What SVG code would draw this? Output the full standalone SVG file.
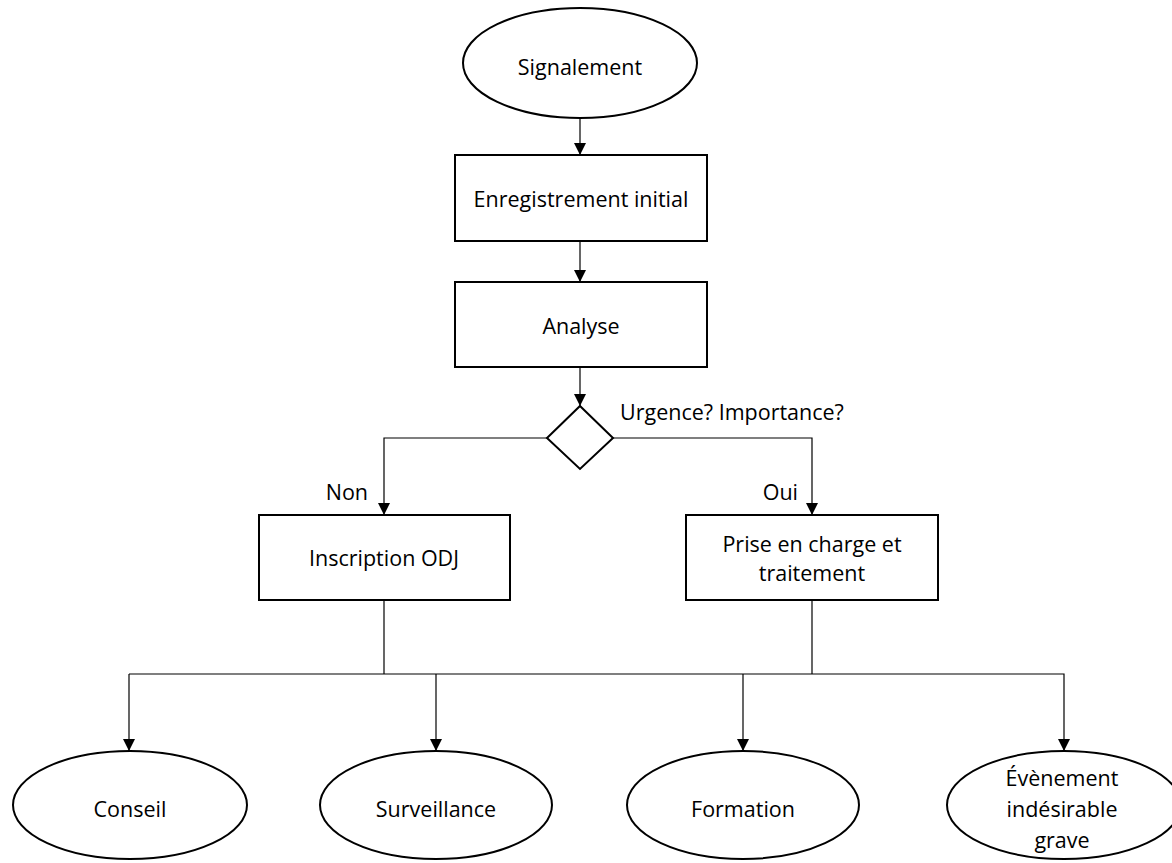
<svg xmlns="http://www.w3.org/2000/svg" width="1172" height="863" viewBox="0 0 1172 863">
<style>
.shape{fill:#fff;stroke:#000;stroke-width:2}
.lbl{font-family:"Open Sans","Liberation Sans",sans-serif;font-size:21.5px;fill:#000;text-anchor:middle;dominant-baseline:central}
.side{font-family:"Open Sans","Liberation Sans",sans-serif;font-size:21.5px;fill:#000;dominant-baseline:central}
.conn{fill:none;stroke:#000;stroke-width:1.2}
</style>
<defs>
<marker id="arr" markerUnits="userSpaceOnUse" markerWidth="12" markerHeight="12" refX="12" refY="6" orient="auto">
<path d="M0,0 L12,6 L0,12 z" fill="#000"/>
</marker>
</defs>
<rect width="1172" height="863" fill="#fff"/>
<g id="connectors">
<path class="conn" d="M580,118 V155" marker-end="url(#arr)"/>
<path class="conn" d="M580,241 V282" marker-end="url(#arr)"/>
<path class="conn" d="M580,367 V406" marker-end="url(#arr)"/>
<path class="conn" d="M547,438 H384 V515" marker-end="url(#arr)"/>
<path class="conn" d="M613,438 H812 V515" marker-end="url(#arr)"/>
<path class="conn" d="M384,600 V674"/>
<path class="conn" d="M812,600 V674"/>
<path class="conn" d="M129,674 H1064 V751" marker-end="url(#arr)"/>
<path class="conn" d="M129,674 V751" marker-end="url(#arr)"/>
<path class="conn" d="M436,674 V751" marker-end="url(#arr)"/>
<path class="conn" d="M743,674 V751" marker-end="url(#arr)"/>
<text class="side" x="620" y="411">Urgence? Importance?</text>
<text class="side" x="368" y="491" text-anchor="end">Non</text>
<text class="side" x="798" y="491" text-anchor="end">Oui</text>
</g>
<g id="signalement"><ellipse class="shape" cx="580" cy="63" rx="117" ry="55"/><text class="lbl" x="580" y="66">Signalement</text></g>
<g id="enregistrement"><rect class="shape" x="455" y="155" width="252" height="86"/><text class="lbl" x="581" y="198">Enregistrement initial</text></g>
<g id="analyse"><rect class="shape" x="455" y="282" width="252" height="85"/><text class="lbl" x="581" y="325">Analyse</text></g>
<g id="decision"><polygon class="shape" points="580,406 613,438 580,469 547,438"/></g>
<g id="inscription"><rect class="shape" x="259" y="515" width="251" height="85"/><text class="lbl" x="384" y="557">Inscription ODJ</text></g>
<g id="prise"><rect class="shape" x="686" y="515" width="252" height="85"/><text class="lbl" x="812" y="543">Prise en charge et</text><text class="lbl" x="812" y="572">traitement</text></g>
<g id="conseil"><ellipse class="shape" cx="130" cy="805" rx="117" ry="54"/><text class="lbl" x="130" y="808">Conseil</text></g>
<g id="surveillance"><ellipse class="shape" cx="436" cy="805" rx="116" ry="54"/><text class="lbl" x="436" y="808">Surveillance</text></g>
<g id="formation"><ellipse class="shape" cx="743" cy="805" rx="116" ry="54"/><text class="lbl" x="743" y="808">Formation</text></g>
<g id="evenement"><ellipse class="shape" cx="1064" cy="805" rx="117" ry="54"/><text class="lbl" x="1062" y="777">Évènement</text><text class="lbl" x="1062" y="808">indésirable</text><text class="lbl" x="1062" y="839">grave</text></g>
</svg>
